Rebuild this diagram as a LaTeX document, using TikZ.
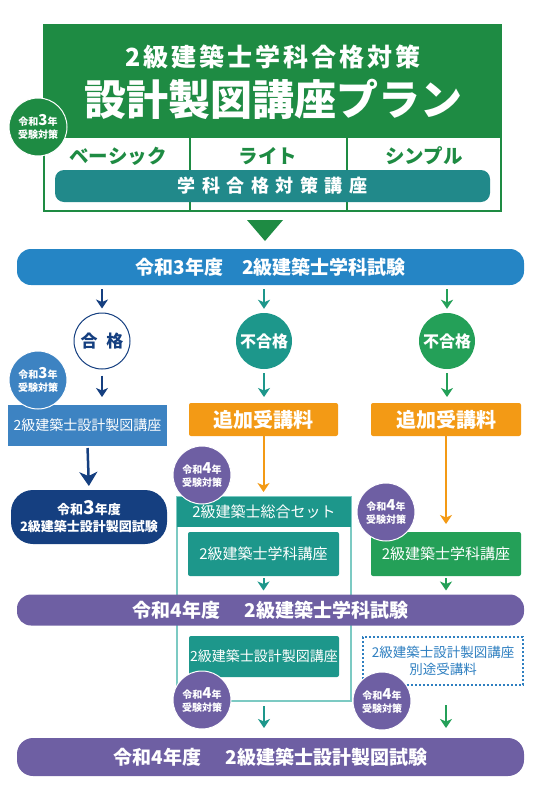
\documentclass[tikz,border=0pt]{standalone}
\usepackage{fontspec}
\setmainfont{Noto Sans CJK JP}
\newfontfamily\jpsp[LetterSpace=12]{Noto Sans CJK JP}
\newfontfamily\jpwide[LetterSpace=36]{Noto Sans CJK JP}
\usetikzlibrary{arrows.meta}
\definecolor{cgreen}{HTML}{1E8B43}
\definecolor{cteal}{HTML}{21898A}
\definecolor{cblue}{HTML}{2585C5}
\definecolor{cnavy}{HTML}{153F80}
\definecolor{clblue}{HTML}{3D83C2}
\definecolor{cteal2}{HTML}{1D978B}
\definecolor{cgreen2}{HTML}{24A058}
\definecolor{corange}{HTML}{F39A15}
\definecolor{cpurple}{HTML}{6E5FA3}
\definecolor{coutline}{HTML}{7CCAC3}
\definecolor{cdot}{HTML}{2E7FC0}
\newcommand\fsz[2]{\fontsize{#1}{#2}\selectfont}
\newcommand\badgetext[1]{令和{\fsz{15}{13}#1}年\\受験対策}
\tikzset{
  box/.style={inner sep=0pt, outer sep=0pt, text=white},
  bar/.style={box, minimum width=507, rounded corners=14, font=\fsz{19}{22}\bfseries},
  badge/.style={circle, minimum size=58, inner sep=0pt, draw=white, line width=1pt, text=white, align=center, font=\fsz{10}{13}\bfseries},
  rbox/.style={box, rounded corners=2, font=\fsz{15}{18}},
  arr/.style={line width=2pt, -{Stealth[width=12pt,length=9pt,inset=2.5pt]}},
  sarr/.style={line width=2pt, -{Stealth[width=12pt,length=9pt,inset=2.5pt]}}
}
\begin{document}
\begin{tikzpicture}[x=1pt,y=-1pt]
\useasboundingbox (0,0) rectangle (540,798);
% top box
\node[box, draw=cgreen, line width=2pt, minimum width=457, minimum height=186] (frame) at (272.5,118) {};
\node[box, fill=cgreen, minimum width=457, minimum height=113] (hdr) at (272.5,81.5) {};
\node[text=white] (t1) at (273,57) {\jpsp\fsz{25}{28}\bfseries 2級建築士学科合格対策};
\node[text=white] (t2) at (273,99) {\fsz{42}{44}\bfseries 設計製図講座プラン};
\draw[cgreen, line width=2pt] (190,138) -- (190,211) (347,138) -- (347,211);
\node[text=cgreen] (l1) at (118,156) {\fsz{19.5}{22}\bfseries ベーシック};
\node[text=cgreen] (l2) at (268,156) {\fsz{19.5}{22}\bfseries ライト};
\node[text=cgreen] (l3) at (424,156) {\fsz{19.5}{22}\bfseries シンプル};
\node[box, fill=cteal, minimum width=435, minimum height=32, rounded corners=9] (tb) at (272.5,186) {\jpwide\fsz{18}{20}\bfseries 学科合格対策講座};
\node[badge, fill=cgreen] (bd0) at (38,127) {\badgetext{3}};
\fill[cgreen] (247,220) -- (283,220) -- (265,241) -- cycle;
% 2021 exam
\node[bar, fill=cblue, minimum height=36] (b1) at (270.5,267) {令和3年度　2級建築士学科試験};
\node[circle, minimum size=56, inner sep=0pt, draw=cnavy, line width=1pt, fill=white, text=cnavy] (c1) at (102,341) {\fsz{17}{20}\bfseries 合\hspace{9pt}格};
\node[circle, minimum size=56, inner sep=0pt, fill=cteal2, text=white] (c2) at (264,341) {\fsz{16}{20}\bfseries 不合格};
\node[circle, minimum size=56, inner sep=0pt, fill=cgreen2, text=white] (c3) at (447,341) {\fsz{16}{20}\bfseries 不合格};
\draw[arr, cnavy, shorten <=4pt, shorten >=4pt] (b1.south -| c1) -- (c1.north);
\draw[arr, cteal2, shorten <=4pt, shorten >=4pt] (b1.south -| c2) -- (c2.north);
\draw[arr, cgreen2, shorten <=4pt, shorten >=4pt] (b1.south -| c3) -- (c3.north);
% left column
\node[box, fill=clblue, minimum width=159, minimum height=41, font=\fsz{14}{17}] (k1) at (87.5,425.5) {2級建築士設計製図講座};
\node[badge, fill=clblue] (bd1) at (38,380) {\badgetext{3}};
\draw[arr, cnavy, shorten <=6pt, shorten >=8pt] (c1.south) -- (c1.south |- k1.north);
\node[box, fill=cnavy, minimum width=156, minimum height=54, rounded corners=22, align=center, font=\fsz{13}{17}\bfseries] (n1) at (89,517) {令和{\fsz{19}{17}3}年度\\2級建築士設計製図試験};
\draw[cnavy, line width=2.5pt, -{Stealth[width=18pt,length=14pt,inset=4pt]}, shorten <=2pt, shorten >=4pt] (k1.south) -- (n1.north);
% orange
\node[box, fill=corange, minimum width=149, minimum height=33, rounded corners=2, font=\fsz{20}{22}\bfseries] (o2) at (263.5,419.5) {追加受講料};
\node[box, fill=corange, minimum width=150, minimum height=33, rounded corners=2, font=\fsz{20}{22}\bfseries] (o3) at (446,419.5) {追加受講料};
\draw[arr, cteal2, shorten <=4pt, shorten >=6pt] (c2.south) -- (c2.south |- o2.north);
\draw[arr, cgreen2, shorten <=4pt, shorten >=6pt] (c3.south) -- (c3.south |- o3.north);
% set
\node[box, draw=coutline, line width=1.2pt, minimum width=174, minimum height=204] (set) at (264,599) {};
\node[box, fill=cteal2, minimum width=174, minimum height=30, font=\fsz{15}{18}] (s2h) at (264,512) {2級建築士総合セット};
\node[rbox, fill=cteal2, minimum width=151, minimum height=44] (s2a) at (263.5,554) {2級建築士学科講座};
\node[rbox, fill=cgreen2, minimum width=150, minimum height=44] (g3) at (446,554) {2級建築士学科講座};
\draw[arr, corange, shorten >=5pt] (o2.south) -- (o2.south |- s2h.north);
\draw[arr, corange, shorten >=8pt] (o3.south) -- (g3.north);
\node[badge, fill=cpurple] (bd2) at (202,475) {\badgetext{4}};
\node[badge, fill=cpurple] (bd3) at (386,512) {\badgetext{4}};
% 2022 exam
\node[bar, fill=cpurple, minimum height=31] (p1) at (270.5,610) {令和4年度\hspace{6pt}　2級建築士学科試験};
\draw[sarr, cteal2, shorten <=2pt, shorten >=4pt] (s2a.south) -- (s2a.south |- p1.north);
\draw[sarr, cgreen2, shorten <=2pt, shorten >=4pt] (g3.south) -- (g3.south |- p1.north);
\node[rbox, fill=cteal2, minimum width=150, minimum height=41, font=\fsz{14}{17}] (s2b) at (264,656.5) {2級建築士設計製図講座};
\node[box, draw=cdot, dash pattern=on 2pt off 2pt, line width=2.2pt, minimum width=160, minimum height=48, text=cdot, align=center, font=\fsz{13.5}{17}] (d3) at (443,661) {2級建築士設計製図講座\\別途受講料};
\node[badge, fill=cpurple] (bd4) at (202,700) {\badgetext{4}};
\node[badge, fill=cpurple] (bd5) at (382,701) {\badgetext{4}};
\node[bar, fill=cpurple, minimum height=38, rounded corners=16] (p2) at (270.5,757) {令和4年度\hspace{6pt}　2級建築士設計製図試験};
\draw[arr, cteal2, shorten <=5pt, shorten >=10pt] (set.south) -- (p2.north -| set);
\draw[arr, cgreen2, shorten <=20pt, shorten >=10pt] (d3.south -| g3) -- (p2.north -| g3);
\end{tikzpicture}
\end{document}
